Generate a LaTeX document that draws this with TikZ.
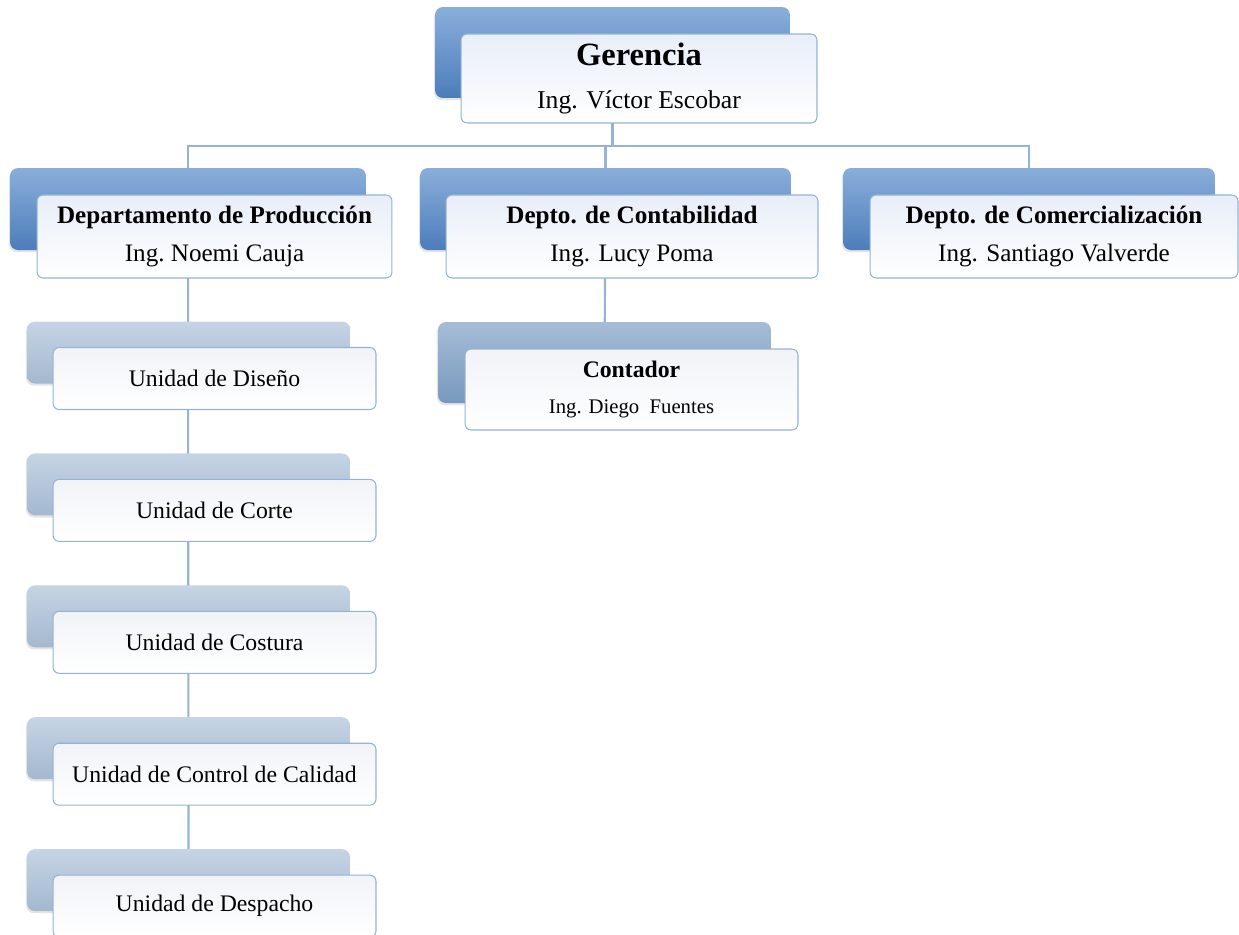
\documentclass[tikz,border=0pt]{standalone}
\usepackage{fontspec}
\setmainfont{Liberation Serif}
\usetikzlibrary{positioning, calc, shadows, backgrounds}
\definecolor{boxline}{HTML}{95B3D7}
\definecolor{deeptop}{HTML}{8AAEDA}
\definecolor{deepbot}{HTML}{4C7DBA}
\definecolor{midtop}{HTML}{A6BDD7}
\definecolor{midbot}{HTML}{7798BE}
\definecolor{paletop}{HTML}{C6D4E4}
\definecolor{palebot}{HTML}{A3B8CF}
\definecolor{facetop}{HTML}{E8EEF8}
\definecolor{unitface}{HTML}{F1F3F7}

\begin{document}
\begin{tikzpicture}[x=0.02cm, y=-0.02cm,
  backbox/.style={rounded corners=4.5pt, inner sep=0pt,
                  drop shadow={shadow xshift=-0.6pt, shadow yshift=-1.2pt,
                               opacity=.15, fill=black!70}},
  deepback/.style={backbox, top color=deeptop, bottom color=deepbot},
  midback/.style={backbox, top color=midtop, bottom color=midbot},
  paleback/.style={backbox, top color=paletop, bottom color=palebot},
  facebox/.style={rounded corners=3.5pt, draw=boxline, line width=0.6pt,
                  top color=facetop, bottom color=white,
                  align=center, inner sep=2pt},
  unitbox/.style={facebox, top color=unitface, minimum width=6.46cm,
                  minimum height=1.24cm, font=\fontsize{13.5}{16}\selectfont},
  link/.style={draw=boxline, line width=1.2pt}
]
\useasboundingbox (0,0) rectangle (1239,934);

% upper levels
\node[deepback, minimum width=7.1cm, minimum height=1.82cm] (gerB) at (612.5,52.5) {};
\node[facebox, minimum width=7.12cm, minimum height=1.78cm,
      font=\fontsize{14.6}{25}\selectfont] (ger) at ($(gerB)+(26.5,26)$)
  {{\fontsize{18.5}{22}\selectfont\bfseries Gerencia}\\Ing. Víctor Escobar};

\node[deepback, minimum width=7.12cm, minimum height=1.64cm] (prodB) at (188,209) {};
\node[facebox, minimum width=7.1cm, minimum height=1.66cm,
      font=\fontsize{14.3}{22}\selectfont] (prod) at ($(prodB)+(26.5,27.5)$)
  {\textbf{Departamento de Producción}\\Ing.\ Noemi Cauja};

\node[deepback, minimum width=7.42cm, minimum height=1.64cm] (contB) at (605.5,209) {};
\node[facebox, minimum width=7.44cm, minimum height=1.66cm,
      font=\fontsize{14.3}{22}\selectfont] (cont) at ($(contB)+(26.5,27.5)$)
  {\textbf{Depto. de Contabilidad}\\Ing. Lucy Poma};

\node[deepback, minimum width=7.44cm, minimum height=1.64cm] (comB) at (1029,209) {};
\node[facebox, minimum width=7.36cm, minimum height=1.66cm,
      font=\fontsize{14.3}{22}\selectfont] (com) at ($(comB)+(25,27.5)$)
  {\textbf{Depto. de Comercialización}\\Ing. Santiago Valverde};

\node[midback, minimum width=6.66cm, minimum height=1.62cm] (contaB) at (604.5,362.5) {};
\node[facebox, top color=unitface, minimum width=6.66cm, minimum height=1.62cm,
      font=\fontsize{11.8}{21}\selectfont] (conta) at ($(contaB)+(27,27)$)
  {{\fontsize{13.5}{16}\selectfont\bfseries Contador}\\Ing. Diego\ \ Fuentes};

% units of production
\foreach \nm/\lbl [count=\i from 0] in {dis/Unidad de Diseño, cor/Unidad de Corte,
    cos/Unidad de Costura, cal/Unidad de Control de Calidad, des/Unidad de Despacho}{
  \node[paleback, minimum width=6.46cm, minimum height=1.24cm] (\nm B)
    at (188.5,352.5+131.9*\i) {};
  \node[unitbox] (\nm) at ($(\nm B)+(26,26)$) {\lbl};
}

% connectors
\begin{scope}[on background layer]
\coordinate (bus) at (612,146);
\draw[link] (gerB.center) -- (gerB.center |- bus);
\draw[link] (prodB.center) -- (prodB.center |- bus) -- (comB.center |- bus) -- (comB.center);
\draw[link] (contB.center) -- (contB.center |- bus);
\draw[link] (prodB.center) -- (desB.center);
\draw[link] (contB.center) -- (contaB.center);
\end{scope}
\end{tikzpicture}
\end{document}
